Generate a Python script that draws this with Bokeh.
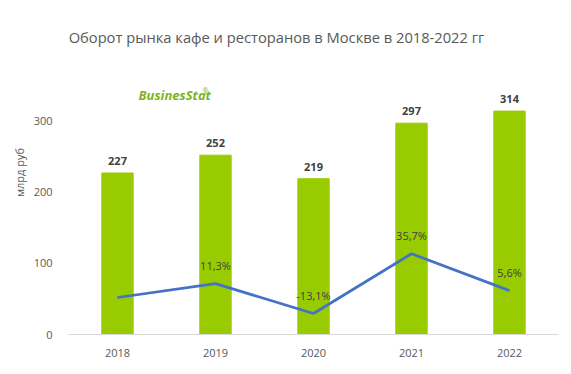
from bokeh.plotting import figure
from bokeh.models import ColumnDataSource, Range1d, Label, FixedTicker
from bokeh.embed import file_html
from bokeh.resources import INLINE
from bokeh.core.properties import value

years = ["2018", "2019", "2020", "2021", "2022"]
turnover = [227, 252, 219, 297, 314]
growth = [0.0, 11.3, -13.1, 35.7, 5.6]
growth_labels = ["", "11,3%", "-13,1%", "35,7%", "5,6%"]
y_ticks = [0, 100, 200, 300]
title_text = "Оборот рынка кафе и ресторанов в Москве в 2018-2022 гг"

FONT = "Open Sans"
GREY = "#595959"

src = ColumnDataSource(dict(
    x=years, y=turnover, lab=[str(v) for v in turnover],
    g=growth, glab=growth_labels,
))

# frame spans the full height so the title can live inside it
p = figure(x_range=years, y_range=Range1d(0, 455.4), width=560, height=360,
           output_backend="svg", toolbar_location=None,
           min_border_left=68, min_border_right=2, min_border_top=10, min_border_bottom=26)

p.extra_y_ranges = {"g": Range1d(-30.2, 234.2)}

p.vbar(x="x", top="y", width=0.32, source=src, color="#99cc00")
p.line(x="x", y="g", source=src, y_range_name="g", line_color="#4472c4", line_width=2.75)

p.text(x="x", y="y", text="lab", source=src, text_align="center", text_baseline="bottom",
       y_offset=-8, text_font=value(FONT), text_font_size="11px", text_font_style="bold",
       text_color="#404040")
p.text(x="x", y="g", text="glab", source=src, y_range_name="g", text_align="center",
       text_baseline="bottom", y_offset=-11, text_font=value(FONT), text_font_size="11px",
       text_color="#404040")

p.xgrid.visible = False
p.ygrid.visible = False
p.outline_line_color = None

p.yaxis.ticker = FixedTicker(ticks=y_ticks)
p.yaxis.axis_line_color = None
p.yaxis.major_tick_line_color = None
p.yaxis.minor_tick_line_color = None
p.yaxis.major_label_text_font = FONT
p.yaxis.major_label_text_font_size = "11px"
p.yaxis.major_label_text_color = GREY
p.yaxis.major_label_standoff = 10
p.yaxis.axis_label = "млрд руб"
p.yaxis.axis_label_text_font = FONT
p.yaxis.axis_label_text_font_size = "11px"
p.yaxis.axis_label_text_font_style = "normal"
p.yaxis.axis_label_text_color = GREY
p.yaxis.axis_label_standoff = 4

p.xaxis.axis_line_color = "#d9d9d9"
p.xaxis.major_tick_line_color = None
p.xaxis.minor_tick_line_color = None
p.xaxis.major_label_text_font = FONT
p.xaxis.major_label_text_font_size = "11px"
p.xaxis.major_label_text_color = GREY
p.xaxis.major_label_standoff = 8

title = Label(x=208, y=298, x_units="screen", y_units="screen", text=title_text,
              text_align="center", text_baseline="middle",
              text_font=FONT, text_font_size="14.7px", text_color=GREY)
p.add_layout(title)

logo = Label(x=70, y=231, x_units="screen", y_units="screen", text="BusinesStat",
             text_font=FONT, text_font_size="13px", text_font_style="bold italic",
             text_color="#7ab51d")
p.add_layout(logo)
reg = Label(x=134, y=240, x_units="screen", y_units="screen", text="®",
            text_font=FONT, text_font_size="7px", text_color="#7ab51d")
p.add_layout(reg)

open("out.html", "w").write(file_html(p, INLINE))
